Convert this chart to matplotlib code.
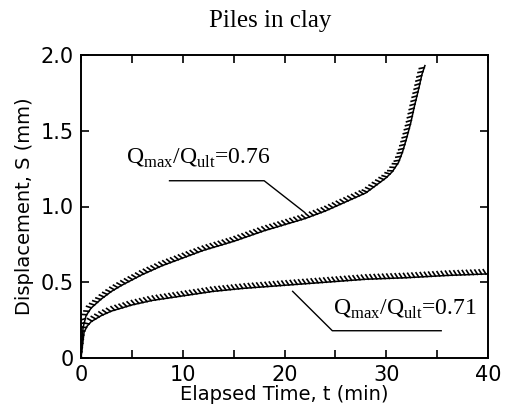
import matplotlib
matplotlib.use("Agg")
import matplotlib.pyplot as plt
import matplotlib.patheffects as pe

# upper curve, Qmax/Qult = 0.76
t_076 = [0, 0.2, 0.5, 1, 2, 3, 4, 6, 8, 10, 12, 15, 18, 20, 22, 24, 26, 28,
         29, 30, 30.6, 31.2, 31.6, 32, 32.4, 32.8, 33.2, 33.5, 33.8]
s_076 = [0, 0.20, 0.28, 0.33, 0.39, 0.44, 0.48, 0.55, 0.61, 0.66, 0.71, 0.77,
         0.84, 0.88, 0.92, 0.97, 1.03, 1.09, 1.14, 1.19, 1.23, 1.29, 1.36,
         1.45, 1.55, 1.67, 1.78, 1.87, 1.93]

# lower curve, Qmax/Qult = 0.71
t_071 = [0, 0.3, 0.6, 1, 2, 3, 5, 7, 10, 13, 16, 20, 24, 28, 32, 36, 40]
s_071 = [0, 0.17, 0.21, 0.24, 0.28, 0.31, 0.35, 0.38, 0.41, 0.44, 0.46, 0.48,
         0.50, 0.52, 0.53, 0.545, 0.555]

x_ticks = [0, 10, 20, 30, 40]
y_ticks = [0, 0.5, 1.0, 1.5, 2.0]
y_ticklabels = ["0", "0.5", "1.0", "1.5", "2.0"]

plt.rcParams["mathtext.fontset"] = "custom"
plt.rcParams["mathtext.rm"] = "Liberation Serif"

fig = plt.figure(figsize=(5.05, 4.12), dpi=100)
ax = fig.add_axes([81 / 505, 1 - 358 / 412, 407 / 505, 303 / 412])

# cyclic loading gives a saw-tooth trace
serrate = [
    pe.TickedStroke(angle=120, spacing=3.0, length=1.2, linewidth=1.2),
    pe.Normal(),
]
for t, s in [(t_076, s_076), (t_071, s_071)]:
    ax.plot(t, s, color="black", lw=1.1, path_effects=serrate)

# leader lines for the labels
ax.plot([8.7, 18.0, 22.0], [1.17, 1.17, 0.96], color="black", lw=1.0)
ax.plot([35.4, 24.7, 20.8], [0.18, 0.18, 0.44], color="black", lw=1.0)

ax.text(11.5, 1.32, r"Q$_{\rm max}$/Q$_{\rm ult}$=0.76", fontsize=17,
        family="Liberation Serif", ha="center", va="center")
ax.text(31.8, 0.32, r"Q$_{\rm max}$/Q$_{\rm ult}$=0.71", fontsize=17,
        family="Liberation Serif", ha="center", va="center")

ax.set_xlim(0, 40)
ax.set_ylim(0, 2.0)
ax.set_xticks(x_ticks)
ax.set_xticks([5, 15, 25, 35], minor=True)
ax.set_yticks(y_ticks)
ax.set_yticklabels(y_ticklabels)
ax.tick_params(which="both", direction="in", top=True, right=True,
               labelsize=15, width=1.2, pad=5)
ax.tick_params(which="major", length=6)
ax.tick_params(which="minor", length=6)
for sp in ax.spines.values():
    sp.set_linewidth(1.4)

ax.set_xlabel("Elapsed Time, t (min)", fontsize=14, labelpad=0)
ax.set_ylabel("Displacement, S (mm)", fontsize=14, labelpad=5)
fig.text(270 / 505, 1 - 21 / 412, "Piles in clay", fontsize=18,
         family="Liberation Serif", ha="center", va="center")

fig.savefig("out.png", dpi=100)
